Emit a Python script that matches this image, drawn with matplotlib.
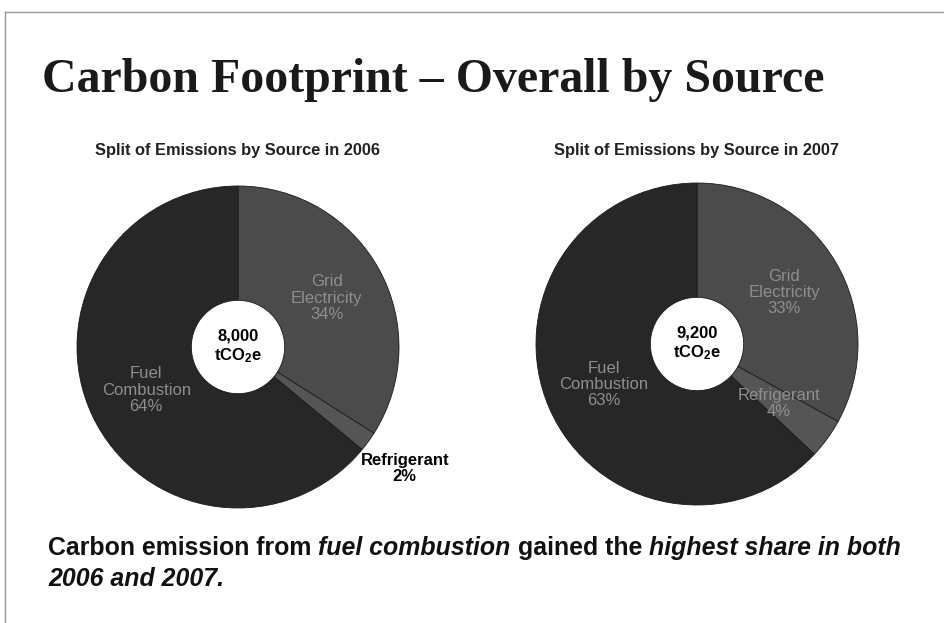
import numpy as np
import matplotlib.pyplot as plt
from matplotlib.lines import Line2D

W, H = 945, 623

sources = ["Grid\nElectricity", "Refrigerant", "Fuel\nCombustion"]
share_2006 = [34, 2, 64]
share_2007 = [33, 4, 63]
total_2006 = "8,000"
total_2007 = "9,200"

slice_colors = ["#4b4b4b", "#555555", "#272727"]
label_color = "#8e8e8e"

plt.rcParams["font.family"] = "Liberation Sans"
plt.rcParams["mathtext.fontset"] = "custom"
plt.rcParams["mathtext.rm"] = "Liberation Sans:bold"
plt.rcParams["mathtext.default"] = "rm"

fig = plt.figure(figsize=(W / 100, H / 100), dpi=100)


def fx(x):
    return x / W


def fy(y):
    return 1 - y / H


def donut(cx, cy, r, values, total, subtitle, outside=()):
    ax = fig.add_axes([(cx - r) / W, (H - cy - r) / H, 2 * r / W, 2 * r / H])
    wedges, _ = ax.pie(values, colors=slice_colors, startangle=90,
                       counterclock=False, radius=1,
                       wedgeprops=dict(width=0.71, edgecolor="#1a1a1a", linewidth=0.6))
    ax.set_xlim(-1, 1)
    ax.set_ylim(-1, 1)
    for w, name, v in zip(wedges, sources, values):
        mid = np.deg2rad((w.theta1 + w.theta2) / 2)
        if name in outside:
            d, col = 1.28, "black"
            weight = "bold"
        else:
            d, col = 0.63, label_color
            weight = "normal"
        ax.text(d * np.cos(mid), d * np.sin(mid), f"{name}\n{v}%",
                ha="center", va="center", color=col, fontsize=12,
                fontweight=weight, linespacing=1.1)
    ax.text(0, 0, f"{total}\ntCO$_2$e", ha="center", va="center",
            fontsize=12, fontweight="bold", linespacing=1.2)
    fig.text(fx(cx), fy(151), subtitle, ha="center", va="center",
             fontsize=11.8, fontweight="bold", color="#222222")


donut(238, 347, 161, share_2006, total_2006,
      "Split of Emissions by Source in 2006", outside=("Refrigerant",))
donut(697, 344, 161, share_2007, total_2007,
      "Split of Emissions by Source in 2007")

# slide title
fig.text(fx(42), fy(80), "Carbon Footprint \u2013 Overall by Source",
         ha="left", va="center", fontsize=34.5, fontweight="bold",
         family="Liberation Serif", color="#1a1a1a")

# slide frame
fig.add_artist(Line2D([fx(5), 1], [fy(12), fy(12)], color="#9a9a9a", lw=1))
fig.add_artist(Line2D([fx(5), fx(5)], [fy(12), 0], color="#9a9a9a", lw=1))

# summary sentence with italic emphasis, pieces laid end to end on one baseline
size = 17.9
space = 0.278 * size * 100 / 72
renderer = fig.canvas.get_renderer()
lines = [
    (555, [("Carbon emission from", "normal"), ("fuel combustion", "italic"),
           ("gained the", "normal"), ("highest share in both", "italic")]),
    (586, [("2006 and 2007.", "italic")]),
]
for y, pieces in lines:
    x = 48
    for s, style in pieces:
        t = fig.text(fx(x), fy(y), s, ha="left", va="baseline", fontsize=size,
                     fontweight="bold", style=style, color="#111111")
        x += t.get_window_extent(renderer).width + space

fig.savefig("out.png", dpi=100)
